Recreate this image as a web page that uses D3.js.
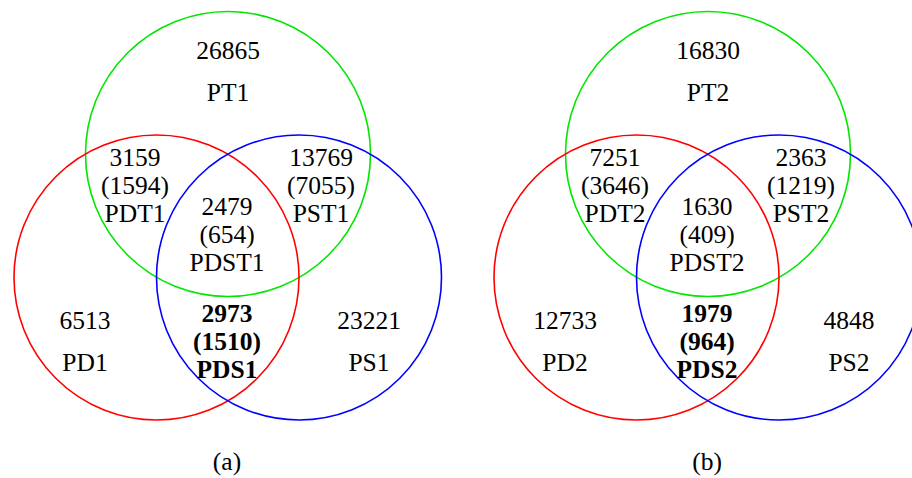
<!DOCTYPE html>
<meta charset="utf-8">
<style>
    body { margin: 0; background: #fff; }
    circle { fill: none; stroke-width: 1.6px; }
</style>
<body>
<script src="https://cdnjs.cloudflare.com/ajax/libs/d3/7.8.5/d3.min.js"></script>
<script>

// Data for the two panels
var panels = ["(a)", "(b)"];
var suffix = ["1", "2"];
var sets = ["T", "D", "S"];
var setColors = ["#00e600", "#ff0000", "#0000ff"];

// region keys, in drawing order
var regions = ["T", "DT", "ST", "DST", "D", "DS", "S"];
var counts1 = [26865, 3159, 13769, 2479, 6513, 2973, 23221];
var counts2 = [16830, 7251, 2363, 1630, 12733, 1979, 4848];
var sub1 = [null, 1594, 7055, 654, null, 1510, null];
var sub2 = [null, 3646, 1219, 409, null, 964, null];
var boldRegion = "DS";

var width = 912, height = 478;
var fontFamily = "'Liberation Serif', 'Times New Roman', Times, serif";
var fontSize = "25.5px";

var svg = d3.select("body").append("svg")
    .attr("width", width)
    .attr("height", height);

// panel offset along x
var px = d3.scaleBand().domain(panels).range([-12, 948]).paddingInner(0);
var r = 142.5;

// circle centres relative to panel centre
var circlePos = {
    T: [0, 154],
    D: [-71.5, 277.5],
    S: [71, 277.5]
};

// label anchor points (x, first baseline) relative to panel centre
var labelPos = {
    T: [0, 58.5],
    DT: [-93, 166],
    ST: [93, 166],
    DST: [-1, 215],
    D: [-143, 329],
    DS: [-1, 322],
    S: [141, 329]
};

var allCounts = [counts1, counts2];
var allSubs = [sub1, sub2];

panels.forEach(function(p, pi) {
    var cx = px(p) + px.bandwidth() / 2;
    var g = svg.append("g")
        .attr("transform", "translate(" + cx + ",0)");

    g.selectAll("circle")
        .data(sets)
        .enter().append("circle")
        .attr("cx", function(d) { return circlePos[d][0]; })
        .attr("cy", function(d) { return circlePos[d][1]; })
        .attr("r", r)
        .attr("stroke", function(d, i) { return setColors[i]; });

    var rows = regions.map(function(key, i) {
        return {
            key: key,
            count: allCounts[pi][i],
            sub: allSubs[pi][i],
            name: "P" + key + suffix[pi]
        };
    });

    var lab = g.selectAll("g.region")
        .data(rows)
        .enter().append("g")
        .attr("class", "region")
        .attr("transform", function(d) {
            return "translate(" + labelPos[d.key][0] + "," + labelPos[d.key][1] + ")";
        });

    lab.each(function(d) {
        var lines;
        var step;
        if (d.sub === null) {
            lines = [d.count, d.name];
            step = 42;
        } else {
            lines = [d.count, "(" + d.sub + ")", d.name];
            step = 28.2;
        }
        d3.select(this).selectAll("text")
            .data(lines)
            .enter().append("text")
            .attr("text-anchor", "middle")
            .attr("y", function(t, i) { return i * step; })
            .style("font-family", fontFamily)
            .style("font-size", fontSize)
            .style("font-weight", d.key === boldRegion ? "bold" : "normal")
            .style("fill", "#000")
            .text(function(t) { return t; });
    });

    g.append("text")
        .attr("x", -1)
        .attr("y", 470)
        .attr("text-anchor", "middle")
        .style("font-family", fontFamily)
        .style("font-size", fontSize)
        .style("fill", "#000")
        .text(p);
});

</script>
</body>
